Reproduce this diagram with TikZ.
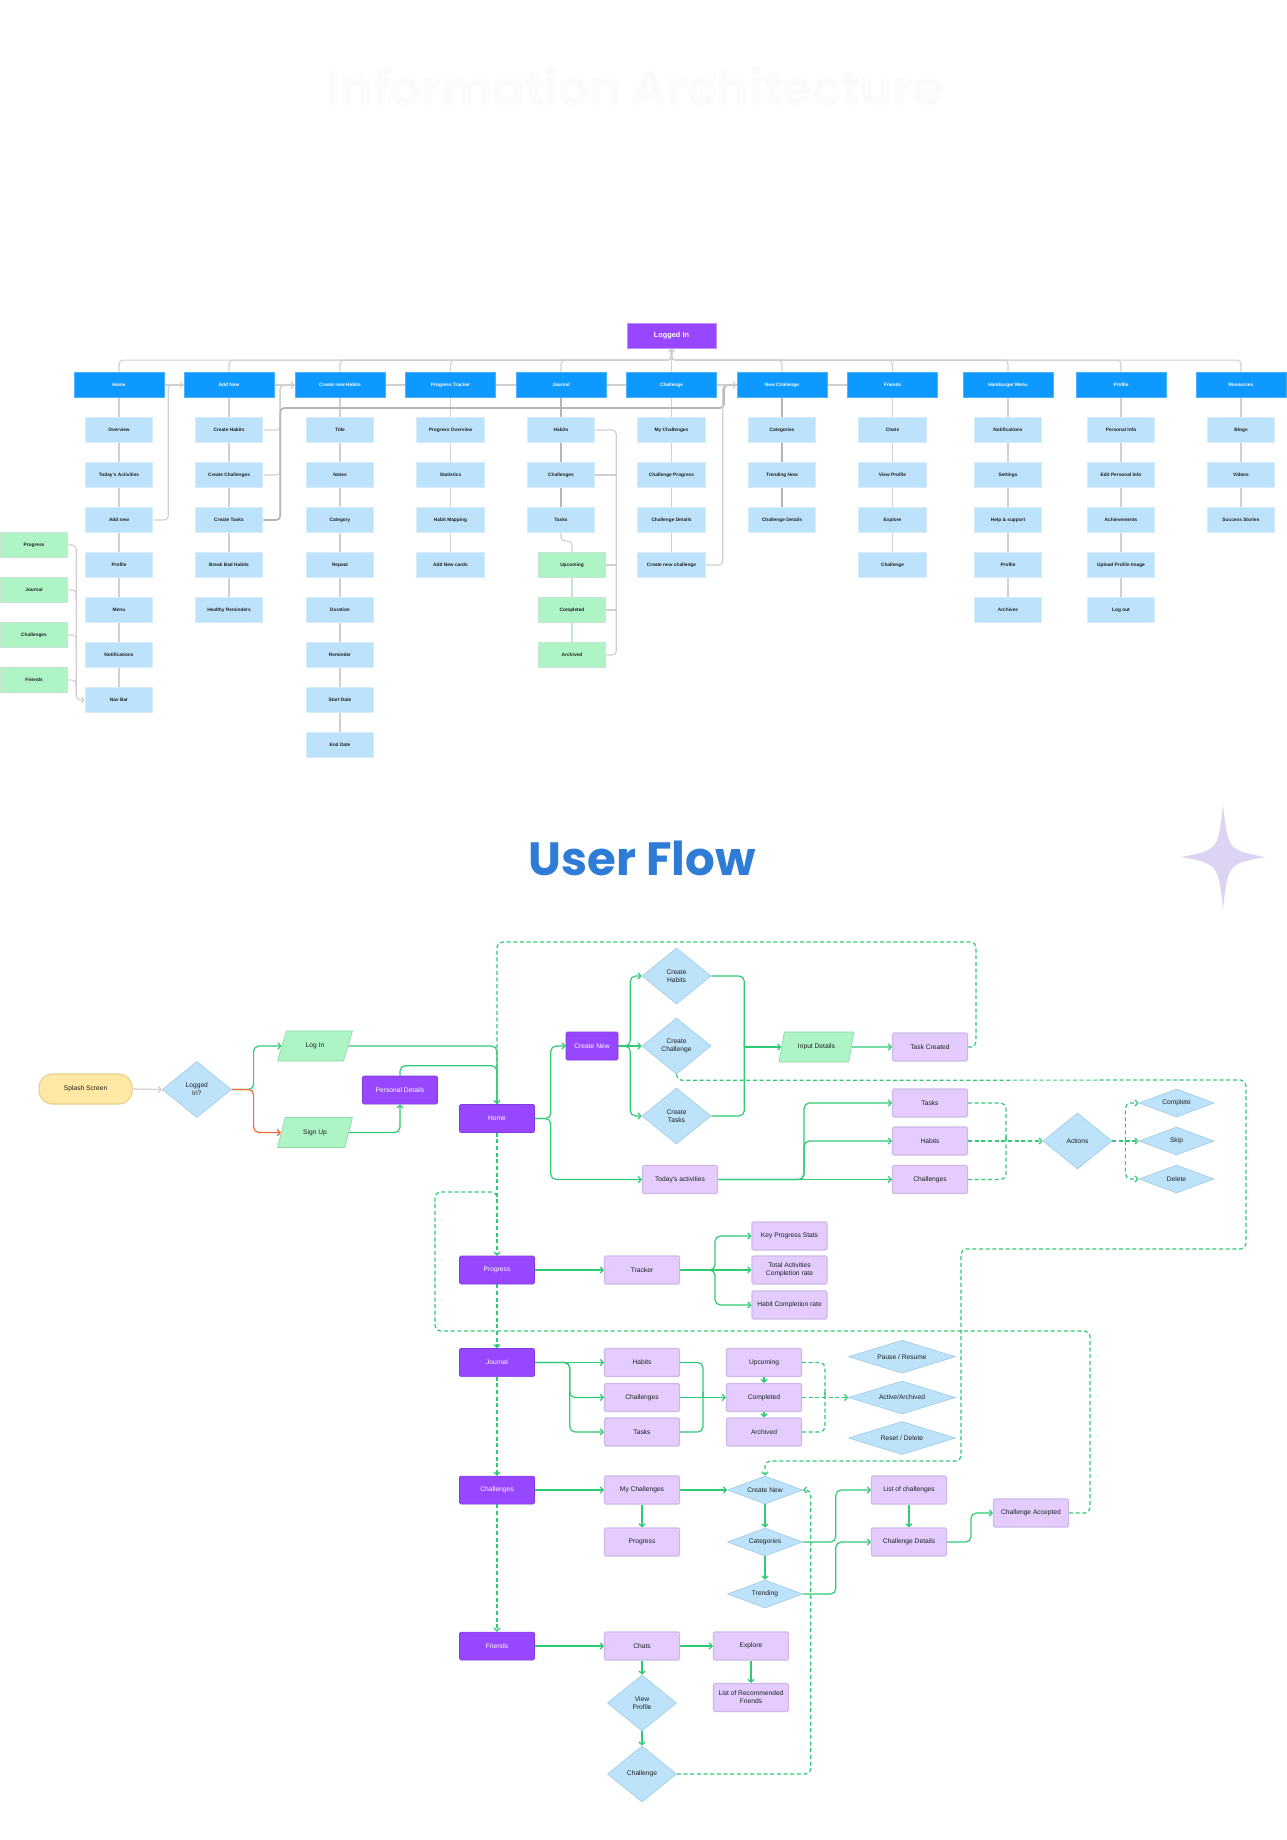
\documentclass[tikz,border=0pt]{standalone}
\usepackage{fontspec}
\setmainfont{Liberation Sans}
\newfontfamily\titlefont{Poppins}
\usetikzlibrary{shapes.geometric,arrows.meta,calc}
\pgfdeclarelayer{bg}
\pgfsetlayers{bg,main}
\definecolor{iablue}{HTML}{0D99FF}
\definecolor{iachildfill}{HTML}{BDE3FC}
\definecolor{iachildline}{HTML}{D6ECFB}
\definecolor{iagreenfill}{HTML}{AFF4C6}
\definecolor{iagreenline}{HTML}{C6E6D1}
\definecolor{iagray}{HTML}{D0D0D0}
\definecolor{iadark}{HTML}{B5B5B5}
\definecolor{iatext}{HTML}{1E1E1E}
\definecolor{ufpurple}{HTML}{9747FF}
\definecolor{uflav}{HTML}{E4CCFF}
\definecolor{uflavline}{HTML}{CDB8E8}
\definecolor{ufblue}{HTML}{BDE3FB}
\definecolor{ufblueline}{HTML}{A3CCE9}
\definecolor{ufgreen}{HTML}{AFF4C6}
\definecolor{ufgreenline}{HTML}{8FD9A9}
\definecolor{ufconn}{HTML}{2FCB74}
\definecolor{ufred}{HTML}{F26B3A}
\definecolor{ufyellow}{HTML}{FFE8A3}
\definecolor{ufyellowline}{HTML}{E8CF87}
\definecolor{uftext}{HTML}{1E1E1E}
\definecolor{uftitle}{HTML}{2E7CD6}
\definecolor{starfill}{HTML}{DDD3F3}
\tikzset{
  ialine/.style={draw=iagray, line width=0.8pt, rounded corners=3pt},
  iadarkline/.style={draw=iadark, line width=1.2pt, rounded corners=3pt},
  iaroot/.style={rectangle, fill=ufpurple, draw=ufpurple!60!white, line width=0.6pt, minimum width=66.75pt, minimum height=18.75pt, inner sep=0pt, text=white, font=\bfseries\fontsize{5.5}{6}\selectfont},
  iahead/.style={rectangle, fill=iablue, draw=iablue!75!white, line width=0.5pt, minimum width=67.5pt, minimum height=18.75pt, inner sep=0pt, text=white, font=\bfseries\fontsize{3.6}{4}\selectfont},
  iachild/.style={rectangle, fill=iachildfill, draw=iachildline, line width=0.8pt, minimum width=50.6pt, minimum height=18.75pt, inner sep=0pt, text=iatext, font=\bfseries\fontsize{3.6}{4}\selectfont},
  iagreen/.style={iachild, fill=iagreenfill, draw=iagreenline},
  ufbase/.style={inner sep=1pt, align=center, font=\fontsize{5}{6}\selectfont, text=uftext},
  pbox/.style={ufbase, rectangle, rounded corners=1pt, fill=ufpurple, draw=ufpurple!85!black, line width=0.4pt, minimum width=56.25pt, minimum height=21pt, text=white},
  lbox/.style={ufbase, rectangle, rounded corners=1pt, fill=uflav, draw=uflavline, line width=0.8pt, minimum width=56.25pt, minimum height=21pt},
  bdia/.style={ufbase, diamond, aspect=1.2, fill=ufblue, draw=ufblueline, line width=0.5pt, minimum width=51.75pt, minimum height=42pt, inner sep=0pt},
  fdia/.style={bdia, aspect=2.7, minimum width=56.25pt, minimum height=21pt},
  wdia/.style={bdia, aspect=3.2, minimum width=80.25pt, minimum height=24.75pt},
  para/.style={ufbase, trapezium, trapezium left angle=64, trapezium right angle=116, trapezium stretches=true, fill=ufgreen, draw=ufgreenline, line width=0.5pt, minimum width=56.25pt, minimum height=22.5pt, inner sep=0pt},
  pill/.style={ufbase, rectangle, rounded corners=10pt, fill=ufyellow, draw=ufyellowline, line width=0.8pt, minimum width=69.75pt, minimum height=22.5pt},
  gline/.style={draw=ufconn, line width=0.9pt, rounded corners=4pt, ->},
  gdash/.style={gline, dash pattern=on 3pt off 2pt},
}
\begin{document}
\begin{tikzpicture}[x=0.75pt,y=-0.75pt,>={Straight Barb[length=2.2pt,width=4.6pt]}]
\begin{pgfonlayer}{bg}
\fill[white] (0,0) rectangle (1286,1840);
\end{pgfonlayer}
\useasboundingbox (0,0) rectangle (1286,1840);

% faint heading
\node[font=\titlefont\bfseries\fontsize{36}{40}\selectfont, text=black!1.5] (iatitle) at (635,86) {Information Architecture};

% ================= Information architecture =================
\node[iaroot] (li) at (671.5,335.5) {Logged In};
\node[iahead] (hHome) at (119,385) {Home};
\node[iahead] (hAddNew) at (229,385) {Add New};
\node[iahead] (hCNH) at (340,385) {Create new Habits};
\node[iahead] (hPT) at (450.5,385) {Progress Tracker};
\node[iahead] (hJournal) at (561,385) {Journal};
\node[iahead] (hChallenge) at (671.5,385) {Challenge};
\node[iahead] (hNC) at (782,385) {New Challenge};
\node[iahead] (hFriends) at (892.5,385) {Friends};
\node[iahead] (hHam) at (1008,385) {Hamburger Menu};
\node[iahead] (hProfile) at (1121,385) {Profile};
\node[iahead] (hRes) at (1241,385) {Resources};

\foreach \t [count=\i] in {Overview,Today's Activities,Add new,Profile,Menu,Notifications,Nav Bar}
  \node[iachild] (hm\i) at (119,{385+45*\i}) {\t};
\foreach \t [count=\i] in {Create Habits,Create Challenges,Create Tasks,Break Bad Habits,Healthy Reminders}
  \node[iachild] (an\i) at (229,{385+45*\i}) {\t};
\foreach \t [count=\i] in {Title,Notes,Category,Repeat,Duration,Reminder,Start Date,End Date}
  \node[iachild] (cn\i) at (340,{385+45*\i}) {\t};
\foreach \t [count=\i] in {Progress Overview,Statistics,Habit Mapping,Add New cards}
  \node[iachild] (pt\i) at (450.5,{385+45*\i}) {\t};
\foreach \t [count=\i] in {Habits,Challenges,Tasks}
  \node[iachild] (jr\i) at (561,{385+45*\i}) {\t};
\foreach \t [count=\i] in {Upcoming,Completed,Archived}
  \node[iagreen] (jg\i) at (572,{520+45*\i}) {\t};
\foreach \t [count=\i] in {My Challenges,Challenge Progress,Challenge Details,Create new challenge}
  \node[iachild] (ch\i) at (671.5,{385+45*\i}) {\t};
\foreach \t [count=\i] in {Categories,Trending Now,Challenge Details}
  \node[iachild] (nc\i) at (782,{385+45*\i}) {\t};
\foreach \t [count=\i] in {Chats,View Profile,Explore,Challenge}
  \node[iachild] (fr\i) at (892.5,{385+45*\i}) {\t};
\foreach \t [count=\i] in {Notifications,Settings,Help \& support,Profile,Archives}
  \node[iachild] (hb\i) at (1008,{385+45*\i}) {\t};
\foreach \t [count=\i] in {Personal Info,Edit Personal Info,Achievements,Upload Profile Image,Log out}
  \node[iachild] (pf\i) at (1121,{385+45*\i}) {\t};
\foreach \t [count=\i] in {Blogs,Videos,Success Stories}
  \node[iachild] (rs\i) at (1241,{385+45*\i}) {\t};
\foreach \t [count=\i] in {Progress,Journal,Challenges,Friends}
  \node[iagreen] (lg\i) at (34,{500+45*\i}) {\t};

\begin{pgfonlayer}{bg}
  % bus to Logged In
  \foreach \h in {hHome,hAddNew,hCNH,hPT,hJournal,hNC,hFriends,hHam,hProfile,hRes}
    \draw[ialine] (\h.north) -- ++(0,-12) -| (li.south);
  \draw[ialine,->] (hChallenge.north) -- (li.south);
  % columns
  \draw[ialine] (hHome) -- (hm7);
  \draw[ialine] (hAddNew) -- (an5);
  \draw[ialine] (hCNH) -- (cn8);
  \draw[ialine] (hPT) -- (pt4);
  \draw[iadarkline] (hJournal) -- (jr3);
  \draw[ialine] (hChallenge) -- (ch4);
  \draw[iadarkline] (hNC) -- (nc3);
  \draw[ialine] (hFriends) -- (fr4);
  \draw[ialine] (hHam) -- (hb5);
  \draw[ialine] (hProfile) -- (pf5);
  \draw[ialine] (hRes) -- (rs3);
  \draw[ialine] (jr3.south) -- ++(0,8) -| (jg1.north);
  \draw[ialine, draw=iagreenline] (jg1) -- (jg3);
  % header links
  \draw[ialine] (hHome.east) -- (hAddNew.west);
  \draw[ialine] (hAddNew.east) -- (hCNH.west);
  \draw[ialine] (hCNH.east) -- (hPT.west);
  \draw[ialine] (hPT.east) -- (hJournal.west);
  \draw[ialine] (hJournal.east) -- (hChallenge.west);
  \draw[ialine] (hNC.east) -- (hFriends.west);
  \draw[ialine,->] (hChallenge.east) -- (hNC.west);
  % side links
  \draw[ialine,->] (hm3.east) -- ++(15,0) |- (hAddNew.west);
  \foreach \i in {1,2,3}
    \draw[ialine,->] (an\i.east) -- ++(17,0) |- (hCNH.west);
  \draw[iadarkline] (an3.east) -- ++(17,0) -- ++(0,-112) -- (724,408) |- (hNC.west);
  \draw[ialine,->] (ch4.east) -- ++(17,0) |- (hNC.west);
  \draw[ialine] (jr1.east) -- ++(21,0) |- (jg3.east);
  \draw[ialine] (jr2.east) -- ++(21,0);
  \draw[ialine] (jg1.east) -- ++(10,0);
  \draw[ialine] (jg2.east) -- ++(10,0);
  \draw[ialine,->] (lg1.east) -- ++(8,0) |- (hm7.west);
  \foreach \i in {2,3,4}
    \draw[ialine] (lg\i.east) -- ++(8,0) -- ++(0,10);
\end{pgfonlayer}

% ================= User flow =================
\node[font=\titlefont\bfseries\fontsize{35}{40}\selectfont, text=uftitle] (uftitle) at (642,858) {User Flow};
\fill[starfill] (1223,805) .. controls (1228,850) .. (1265,857) .. controls (1228,864) .. (1223,909) .. controls (1218,864) .. (1181,857) .. controls (1218,850) .. (1223,805) -- cycle;

\node[pill] (splash) at (85.6,1089) {Splash Screen};
\node[bdia] (loggedq) at (196.8,1089.5) {Logged\\In?};
\node[para] (login) at (315,1046) {Log In};
\node[para] (signup) at (315,1132.5) {Sign Up};
\node[pbox] (pdetails) at (400,1090) {Personal Details};
\node[pbox] (home) at (497,1118.5) {Home};
\node[pbox, minimum width=39pt] (createnew) at (592,1046) {Create New};
\node[bdia] (cHabits) at (676.5,976) {Create\\Habits};
\node[bdia] (cChallenge) at (676.5,1046) {Create\\Challenge};
\node[bdia] (cTasks) at (676.5,1116) {Create\\Tasks};
\node[para] (input) at (816.5,1047) {Input Details};
\node[lbox] (taskcreated) at (930,1047) {Task Created};
\node[lbox] (tTasks) at (930,1103) {Tasks};
\node[lbox] (tHabits) at (930,1141) {Habits};
\node[lbox] (tChallenges) at (930,1179.5) {Challenges};
\node[lbox] (today) at (680,1179.5) {Today's activities};
\node[bdia] (actions) at (1077.5,1141) {Actions};
\node[fdia] (complete) at (1176.5,1103) {Complete};
\node[fdia] (skip) at (1176.5,1141) {Skip};
\node[fdia] (delete) at (1176.5,1179) {Delete};

\node[pbox] (progress) at (497,1270) {Progress};
\node[lbox] (tracker) at (642,1270) {Tracker};
\node[lbox] (kps) at (789.5,1236) {Key Progress Stats};
\node[lbox] (tacr) at (789.5,1270) {Total Activities\\Completion rate};
\node[lbox] (hcr) at (789.5,1305) {Habit Completion rate};

\node[pbox] (journal) at (497,1362.5) {Journal};
\node[lbox] (jhabits) at (642,1362.5) {Habits};
\node[lbox] (jchal) at (642,1397.5) {Challenges};
\node[lbox] (jtasks) at (642,1432) {Tasks};
\node[lbox] (upcoming) at (764,1362.5) {Upcoming};
\node[lbox] (completed) at (764,1397.5) {Completed};
\node[lbox] (archived) at (764,1432) {Archived};
\node[wdia] (pause) at (902,1356.7) {Pause / Resume};
\node[wdia] (active) at (902,1397.5) {Active/Archived};
\node[wdia] (reset) at (902,1438) {Reset / Delete};

\node[pbox] (challenges) at (497,1490) {Challenges};
\node[lbox] (mychal) at (642,1490) {My Challenges};
\node[lbox] (cprog) at (642,1542) {Progress};
\node[fdia] (crnew) at (765,1490) {Create New};
\node[fdia] (categories) at (765,1542) {Categories};
\node[fdia] (trending) at (765,1594) {Trending};
\node[lbox] (listchal) at (909,1490) {List of challenges};
\node[lbox] (chdetails) at (909,1542) {Challenge Details};
\node[lbox] (accepted) at (1031,1513) {Challenge Accepted};

\node[pbox] (friends) at (497,1646) {Friends};
\node[lbox] (chats) at (642,1646) {Chats};
\node[lbox] (explore) at (751,1646) {Explore};
\node[lbox] (listrec) at (751,1697.5) {List of Recommended\\Friends};
\node[bdia] (viewprof) at (642,1703) {View\\Profile};
\node[bdia] (chdia) at (642,1774) {Challenge};

% merge / split points
\coordinate (actm) at ($(tHabits.east)+(38,0)$);
\coordinate (acts) at ($(actions.east)+(13,0)$);
\coordinate (jm) at ($(jchal.east)+(23,0)$);
\coordinate (am) at ($(completed.east)+(23,0)$);
\path (cHabits.east) -- ++(33,0) coordinate (imx);
\coordinate (im) at (imx |- input.west);
\coordinate (spj) at (497,1200);

\begin{pgfonlayer}{bg}
  % entry
  \draw[gline, draw=iagray] (splash.east) -- (loggedq.west);
  \draw[gline] (loggedq.east) -- ++(22,0) |- (login.west);
  \draw[gline, draw=ufred] (loggedq.east) -- ++(22,0) |- (signup.west);
  \draw[gline] (login.east) -| (home.north);
  \draw[gline] (signup.east) -| (pdetails.south);
  \draw[gline,-] (pdetails.north) -- ++(0,-10) -| (home.north);
  % home branch
  \draw[gline] (home.east) -- ++(16,0) |- (createnew.west);
  \draw[gline] (home.east) -- ++(16,0) |- (today.west);
  \draw[gline] (createnew.east) -- ++(12,0) |- (cHabits.west);
  \draw[gline] (createnew.east) -- (cChallenge.west);
  \draw[gline] (createnew.east) -- ++(12,0) |- (cTasks.west);
  \draw[gline,-] (cHabits.east) -- ++(33,0) |- (im);
  \draw[gline,-] (cTasks.east) -- ++(33,0) |- (im);
  \draw[gline] (im) -- (input.west);
  \draw[gline] (input.east) -- (taskcreated.west);
  \draw[gline] (today.east) -- (tChallenges.west);
  \draw[gline] (today.east) -- ++(86,0) |- (tTasks.west);
  \draw[gline] (today.east) -- ++(86,0) |- (tHabits.west);
  \draw[gdash,-] (tTasks.east) -- ++(38,0) |- (actm);
  \draw[gdash,-] (tChallenges.east) -- ++(38,0) |- (actm);
  \draw[gdash] (tHabits.east) -- (actions.west);
  \draw[gdash] (acts) |- (complete.west);
  \draw[gdash] (actions.east) -- (skip.west);
  \draw[gdash] (acts) |- (delete.west);
  % dashed loops
  \draw[gdash,-] (taskcreated.east) -- ++(8,0) -- ++(0,-105) -| (home.north);
  \draw[gdash] (cChallenge.south) -- ++(0,6) -- (1246,1080) -- (1246,1249) -- (961,1249) -- (961,1461) -| (crnew.north);
  \draw[gdash,-] (accepted.east) -- ++(21,0) -- ++(0,-182) -- ++(-655,0) -- ++(0,-139) -- ++(62,0) -- (spj);
  \draw[gdash] (chdia.east) -- ++(134,0) |- (crnew.east);
  % spine
  \draw[gdash] (home.south) -- (progress.north);
  \draw[gdash] (progress.south) -- (journal.north);
  \draw[gdash] (journal.south) -- (challenges.north);
  \draw[gdash] (challenges.south) -- (friends.north);
  % progress
  \draw[gline] (progress.east) -- (tracker.west);
  \draw[gline] (tracker.east) -- ++(35,0) |- (kps.west);
  \draw[gline] (tracker.east) -- (tacr.west);
  \draw[gline] (tracker.east) -- ++(35,0) |- (hcr.west);
  % journal
  \draw[gline] (journal.east) -- (jhabits.west);
  \draw[gline] (journal.east) -- ++(35,0) |- (jchal.west);
  \draw[gline] (journal.east) -- ++(35,0) |- (jtasks.west);
  \draw[gline,-] (jhabits.east) -- ++(23,0) |- (jm);
  \draw[gline,-] (jtasks.east) -- ++(23,0) |- (jm);
  \draw[gline] (jchal.east) -- (completed.west);
  \draw[gline] (upcoming.south) -- (completed.north);
  \draw[gline] (completed.south) -- (archived.north);
  \draw[gdash,-] (upcoming.east) -- ++(23,0) |- (am);
  \draw[gdash,-] (archived.east) -- ++(23,0) |- (am);
  \draw[gdash] (completed.east) -- (active.west);
  % challenges
  \draw[gline] (challenges.east) -- (mychal.west);
  \draw[gline] (mychal.east) -- (crnew.west);
  \draw[gline] (mychal.south) -- (cprog.north);
  \draw[gline] (crnew.south) -- (categories.north);
  \draw[gline] (categories.south) -- (trending.north);
  \draw[gline] (categories.east) -- ++(33,0) |- (listchal.west);
  \draw[gline] (trending.east) -- ++(33,0) |- (chdetails.west);
  \draw[gline] (listchal.south) -- (chdetails.north);
  \draw[gline] (chdetails.east) -- ++(24,0) |- (accepted.west);
  % friends
  \draw[gline] (friends.east) -- (chats.west);
  \draw[gline] (chats.east) -- (explore.west);
  \draw[gline] (chats.south) -- (viewprof.north);
  \draw[gline] (viewprof.south) -- (chdia.north);
  \draw[gline] (explore.south) -- (listrec.north);
\end{pgfonlayer}
\end{tikzpicture}
\end{document}
